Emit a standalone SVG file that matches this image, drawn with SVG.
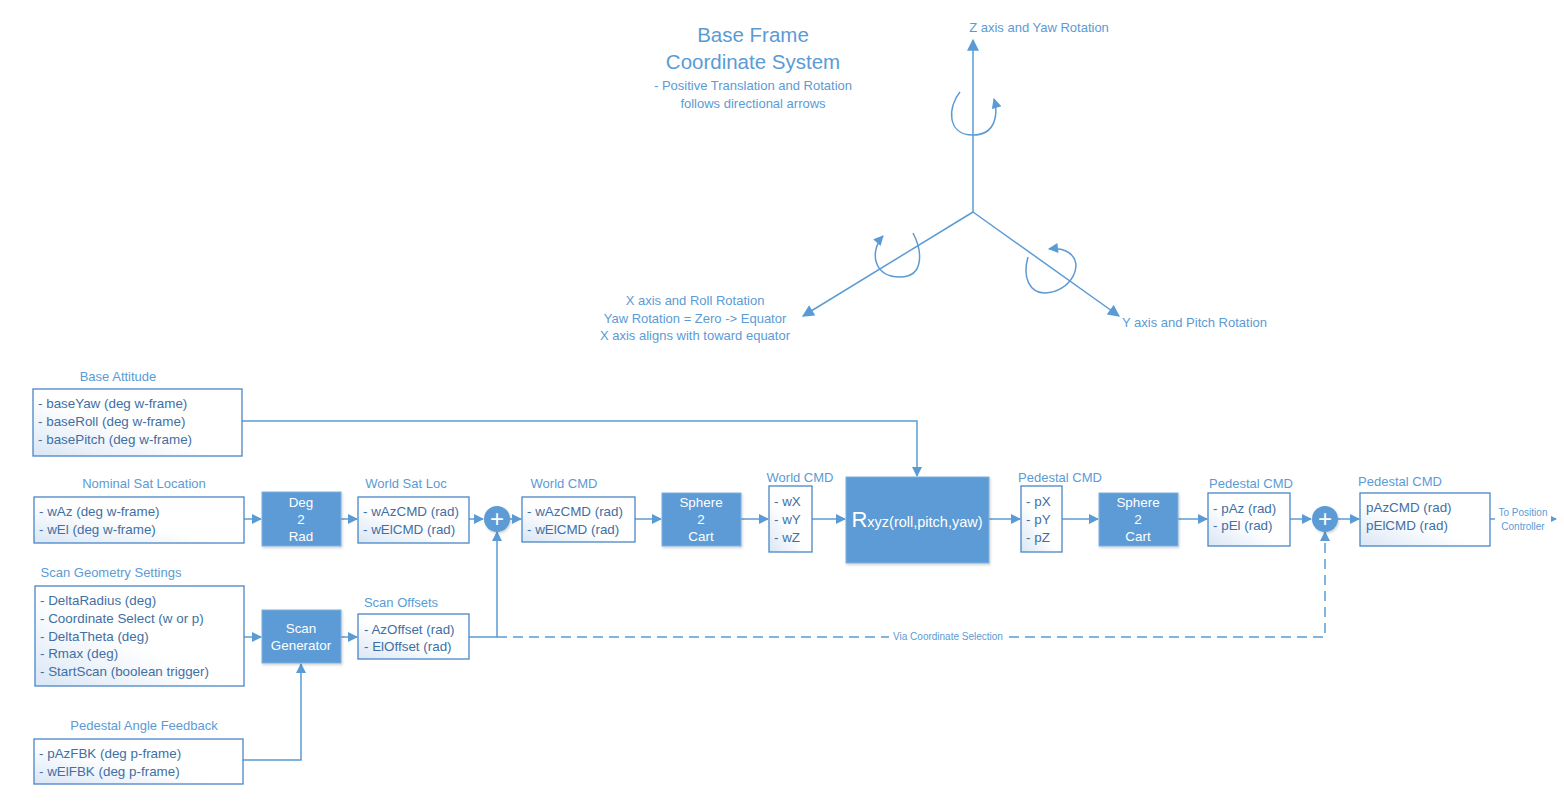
<svg xmlns="http://www.w3.org/2000/svg" width="1564" height="805" viewBox="0 0 1564 805">
<defs>
<linearGradient id="bg" x1="0" y1="1" x2="1" y2="0">
<stop offset="0" stop-color="#d9e6f5"/>
<stop offset="0.45" stop-color="#ffffff"/>
<stop offset="1" stop-color="#ffffff"/>
</linearGradient>
<filter id="sh" x="-10%" y="-10%" width="130%" height="130%">
<feDropShadow dx="1" dy="1.5" stdDeviation="1.2" flood-color="#000" flood-opacity="0.18"/>
</filter>
<marker id="ar" viewBox="0 0 10 10" refX="9" refY="5" markerWidth="11" markerHeight="10" markerUnits="userSpaceOnUse" orient="auto">
<path d="M0,0 L10,5 L0,10 Z" fill="#5b9bd5"/>
</marker>
<marker id="arL" viewBox="0 0 10 10" refX="9" refY="5" markerWidth="14" markerHeight="12" markerUnits="userSpaceOnUse" orient="auto">
<path d="M0,0 L10,5 L0,10 Z" fill="#5b9bd5"/>
</marker>
</defs>
<style>
text{font-family:"Liberation Sans",Arial,sans-serif;}
.lbl{font-size:13px;fill:#5b9bd5;text-anchor:middle;}
.bt{font-size:13.4px;fill:#3f6fa3;}
.wt{font-size:13.4px;fill:#ffffff;text-anchor:middle;}
.box{fill:url(#bg);stroke:#4a86c5;stroke-width:1.3;}
.blk{fill:#5b9bd5;stroke:#7fb0df;stroke-width:1;filter:url(#sh);}
.ln{fill:none;stroke:#5b9bd5;stroke-width:1.5;}
.dash{fill:none;stroke:#5b9bd5;stroke-width:1.5;stroke-dasharray:10 6;}
.ttl{font-size:20.5px;fill:#5b9bd5;text-anchor:middle;}
.sm{font-size:10px;fill:#5b9bd5;text-anchor:middle;}
.plus{font-size:24px;fill:#ffffff;text-anchor:middle;}
</style>
<rect width="1564" height="805" fill="#ffffff"/>

<g id="title">
<text class="ttl" x="753" y="42">Base Frame</text>
<text class="ttl" x="753" y="69">Coordinate System</text>
<text class="lbl" x="753" y="90">- Positive Translation and Rotation</text>
<text class="lbl" x="753" y="108">follows directional arrows</text>
</g>

<g id="axes">
<line class="ln" x1="973" y1="212" x2="973" y2="40" marker-end="url(#arL)"/>
<line class="ln" x1="973" y1="212" x2="803" y2="316" marker-end="url(#arL)"/>
<line class="ln" x1="973" y1="212" x2="1119" y2="316" marker-end="url(#arL)"/>
<path class="ln" d="M960,92 C948,106 946,135 973,135 C997,135 998,112 994,99" marker-end="url(#ar)"/>
<path class="ln" d="M913,233 C922,250 925,277 900,277 C872,277 870,250 883,236" marker-end="url(#ar)"/>
<path class="ln" d="M1028,257 C1022,278 1030,293 1045,293 C1070,293 1088,262 1066,251 C1062,249 1058,248 1049,249" marker-end="url(#ar)"/>
<text class="lbl" x="1039" y="32">Z axis and Yaw Rotation</text>
<text class="lbl" x="695" y="305">X axis and Roll Rotation</text>
<text class="lbl" x="695" y="323">Yaw Rotation = Zero -&gt; Equator</text>
<text class="lbl" x="695" y="340">X axis aligns with toward equator</text>
<text class="lbl" x="1122" y="327" style="text-anchor:start">Y axis and Pitch Rotation</text>
</g>

<g id="connectors">
<polyline class="ln" points="242,421 917,421 917,476" marker-end="url(#ar)"/>
<line class="ln" x1="244" y1="519" x2="261" y2="519" marker-end="url(#ar)"/>
<line class="ln" x1="341" y1="519" x2="357" y2="519" marker-end="url(#ar)"/>
<line class="ln" x1="469" y1="519" x2="483" y2="519" marker-end="url(#ar)"/>
<line class="ln" x1="510" y1="519" x2="521" y2="519" marker-end="url(#ar)"/>
<line class="ln" x1="635" y1="519" x2="661" y2="519" marker-end="url(#ar)"/>
<line class="ln" x1="741" y1="519" x2="768" y2="519" marker-end="url(#ar)"/>
<line class="ln" x1="812" y1="519" x2="845" y2="519" marker-end="url(#ar)"/>
<line class="ln" x1="989" y1="519" x2="1020" y2="519" marker-end="url(#ar)"/>
<line class="ln" x1="1062" y1="519" x2="1098" y2="519" marker-end="url(#ar)"/>
<line class="ln" x1="1178" y1="519" x2="1207" y2="519" marker-end="url(#ar)"/>
<line class="ln" x1="1290" y1="519" x2="1311" y2="519" marker-end="url(#ar)"/>
<line class="ln" x1="1338" y1="519" x2="1359" y2="519" marker-end="url(#ar)"/>
<line class="ln" x1="1490" y1="519" x2="1556" y2="519" marker-end="url(#ar)"/>
<line class="ln" x1="244" y1="637" x2="261" y2="637" marker-end="url(#ar)"/>
<line class="ln" x1="341" y1="637" x2="357" y2="637" marker-end="url(#ar)"/>
<polyline class="ln" points="243,760 301,760 301,664" marker-end="url(#ar)"/>
<polyline class="ln" points="469,637 497,637 497,532" marker-end="url(#ar)"/>
<polyline class="dash" points="497,637 1325,637 1325,532" marker-end="url(#ar)"/>
<rect x="889" y="630" width="118" height="13" fill="#ffffff"/>
<text class="sm" x="948" y="640">Via Coordinate Selection</text>
<rect x="1495" y="505" width="56" height="28" fill="#ffffff"/>
<text class="sm" x="1523" y="516">To Position</text>
<text class="sm" x="1523" y="530">Controller</text>
</g>

<g id="base-attitude">
<text class="lbl" x="118" y="381">Base Attitude</text>
<rect class="box" x="33" y="389" width="209" height="67"/>
<text class="bt" x="38" y="408">- baseYaw (deg w-frame)</text>
<text class="bt" x="38" y="426">- baseRoll (deg w-frame)</text>
<text class="bt" x="38" y="444">- basePitch (deg w-frame)</text>
</g>

<g id="nominal-sat">
<text class="lbl" x="144" y="488">Nominal Sat Location</text>
<rect class="box" x="34" y="497" width="210" height="46"/>
<text class="bt" x="39" y="516">- wAz (deg w-frame)</text>
<text class="bt" x="39" y="534">- wEl (deg w-frame)</text>
</g>

<g id="deg2rad">
<rect class="blk" x="262" y="492" width="79" height="54"/>
<text class="wt" x="301" y="507">Deg</text>
<text class="wt" x="301" y="524">2</text>
<text class="wt" x="301" y="541">Rad</text>
</g>

<g id="world-sat-loc">
<text class="lbl" x="406" y="488">World Sat Loc</text>
<rect class="box" x="358" y="497" width="111" height="46"/>
<text class="bt" x="363" y="516">- wAzCMD (rad)</text>
<text class="bt" x="363" y="534">- wElCMD (rad)</text>
</g>

<g id="sum1">
<circle cx="497" cy="519" r="13" fill="#5b9bd5" filter="url(#sh)"/>
<text class="plus" x="497" y="527">+</text>
</g>

<g id="world-cmd">
<text class="lbl" x="564" y="488">World CMD</text>
<rect class="box" x="522" y="497" width="113" height="45"/>
<text class="bt" x="527" y="516">- wAzCMD (rad)</text>
<text class="bt" x="527" y="534">- wElCMD (rad)</text>
</g>

<g id="sphere2cart-1">
<rect class="blk" x="662" y="493" width="79" height="53"/>
<text class="wt" x="701" y="507">Sphere</text>
<text class="wt" x="701" y="524">2</text>
<text class="wt" x="701" y="541">Cart</text>
</g>

<g id="world-cmd-xyz">
<text class="lbl" x="800" y="482">World CMD</text>
<rect class="box" x="769" y="486" width="43" height="66"/>
<text class="bt" x="774" y="506">- wX</text>
<text class="bt" x="774" y="524">- wY</text>
<text class="bt" x="774" y="542">- wZ</text>
</g>

<g id="rxyz">
<rect class="blk" x="846" y="477" width="143" height="86"/>
<text x="917" y="527" style="fill:#fff;text-anchor:middle"><tspan style="font-size:22px">R</tspan><tspan style="font-size:14.5px">xyz(roll,pitch,yaw)</tspan></text>
</g>

<g id="pedestal-cmd-xyz">
<text class="lbl" x="1060" y="482">Pedestal CMD</text>
<rect class="box" x="1021" y="486" width="41" height="66"/>
<text class="bt" x="1026" y="506">- pX</text>
<text class="bt" x="1026" y="524">- pY</text>
<text class="bt" x="1026" y="542">- pZ</text>
</g>

<g id="sphere2cart-2">
<rect class="blk" x="1099" y="493" width="79" height="53"/>
<text class="wt" x="1138" y="507">Sphere</text>
<text class="wt" x="1138" y="524">2</text>
<text class="wt" x="1138" y="541">Cart</text>
</g>

<g id="pedestal-cmd-azel">
<text class="lbl" x="1251" y="488">Pedestal CMD</text>
<rect class="box" x="1208" y="493" width="82" height="53"/>
<text class="bt" x="1213" y="513">- pAz (rad)</text>
<text class="bt" x="1213" y="530">- pEl (rad)</text>
</g>

<g id="sum2">
<circle cx="1325" cy="519" r="13" fill="#5b9bd5" filter="url(#sh)"/>
<text class="plus" x="1325" y="527">+</text>
</g>

<g id="pedestal-cmd-final">
<text class="lbl" x="1400" y="486">Pedestal CMD</text>
<rect class="box" x="1360" y="493" width="130" height="53"/>
<text class="bt" x="1366" y="512">pAzCMD (rad)</text>
<text class="bt" x="1366" y="530">pElCMD (rad)</text>
</g>

<g id="scan-geometry">
<text class="lbl" x="111" y="577">Scan Geometry Settings</text>
<rect class="box" x="35" y="586" width="209" height="100"/>
<text class="bt" x="40" y="605">- DeltaRadius (deg)</text>
<text class="bt" x="40" y="623">- Coordinate Select (w or p)</text>
<text class="bt" x="40" y="641">- DeltaTheta (deg)</text>
<text class="bt" x="40" y="658">- Rmax (deg)</text>
<text class="bt" x="40" y="676">- StartScan (boolean trigger)</text>
</g>

<g id="scan-generator">
<rect class="blk" x="262" y="610" width="79" height="53"/>
<text class="wt" x="301" y="633">Scan</text>
<text class="wt" x="301" y="650">Generator</text>
</g>

<g id="scan-offsets">
<text class="lbl" x="401" y="607">Scan Offsets</text>
<rect class="box" x="358" y="614" width="111" height="45"/>
<text class="bt" x="364" y="634">- AzOffset (rad)</text>
<text class="bt" x="364" y="651">- ElOffset (rad)</text>
</g>

<g id="pedestal-feedback">
<text class="lbl" x="144" y="730">Pedestal Angle Feedback</text>
<rect class="box" x="34" y="739" width="209" height="45"/>
<text class="bt" x="39" y="758">- pAzFBK (deg p-frame)</text>
<text class="bt" x="39" y="776">- wElFBK (deg p-frame)</text>
</g>
</svg>
